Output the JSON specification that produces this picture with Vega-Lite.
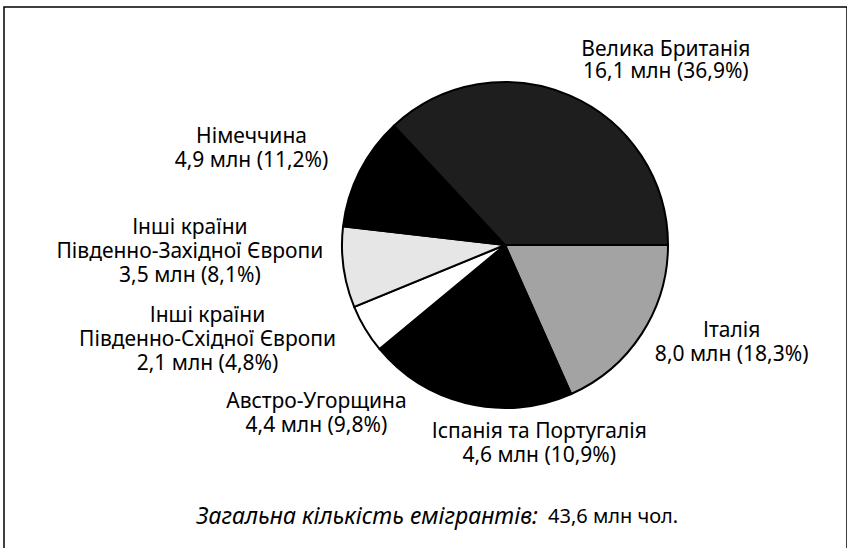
{
  "$schema": "https://vega.github.io/schema/vega-lite/v6.json",
  "width": 843,
  "height": 545,
  "autosize": {"type": "none"},
  "padding": {"left": 4, "top": 7, "right": 0, "bottom": 0},
  "background": "white",
  "view": {"stroke": "black", "strokeWidth": 1.5, "fill": "white"},
  "config": {
    "view": {"stroke": "black", "strokeWidth": 1.5},
    "text": {"font": "Noto Sans", "fontSize": 21, "color": "black"}
  },
  "data": {
    "values": [
      {"name": "Італія", "label": "Італія\n8,0 млн (18,3%)", "value": 8.0, "order": 1},
      {"name": "Іспанія та Португалія", "label": "Іспанія та Португалія\n4,6 млн (10,9%)", "value": 4.6, "order": 2},
      {"name": "Австро-Угорщина", "label": "Австро-Угорщина\n4,4 млн (9,8%)", "value": 4.4, "order": 3},
      {"name": "Інші країни Південно-Східної Європи", "label": "Інші країни\nПівденно-Східної Європи\n2,1 млн (4,8%)", "value": 2.1, "order": 4},
      {"name": "Інші країни Південно-Західної Європи", "label": "Інші країни\nПівденно-Західної Європи\n3,5 млн (8,1%)", "value": 3.5, "order": 5},
      {"name": "Німеччина", "label": "Німеччина\n4,9 млн (11,2%)", "value": 4.9, "order": 6},
      {"name": "Велика Британія", "label": "Велика Британія\n16,1 млн (36,9%)", "value": 16.1, "order": 7}
    ]
  },
  "layer": [
    {
      "encoding": {
        "theta": {"field": "value", "type": "quantitative", "stack": true, "scale": {"range": [1.5708, 7.854]}},
        "order": {"field": "order", "type": "quantitative"}
      },
      "layer": [
        {
          "mark": {"type": "arc", "outerRadius": 163, "stroke": "black", "strokeWidth": 2, "xOffset": 79.5, "yOffset": -34.5},
          "encoding": {
            "color": {
              "field": "name",
              "type": "nominal",
              "scale": {
                "domain": ["Італія", "Іспанія та Португалія", "Австро-Угорщина", "Інші країни Південно-Східної Європи", "Інші країни Південно-Західної Європи", "Німеччина", "Велика Британія"],
                "range": ["#a3a3a3", "#000000", "#000000", "#ffffff", "#e6e6e6", "#000000", "#1e1e1e"]
              },
              "legend": null
            }
          }
        },
        {
          "mark": {"type": "text", "radius": 200, "dx": 81, "dy": -12, "xOffset": 79.5, "yOffset": -34.5, "lineBreak": "\n", "lineHeight": 22, "baseline": "middle", "align": "center"},
          "encoding": {"text": {"condition": {"test": "datum.name === 'Велика Британія'", "field": "label"}, "value": ""}}
        },
        {
          "mark": {"type": "text", "radius": 200, "dx": 59, "dy": -23, "xOffset": 79.5, "yOffset": -34.5, "lineBreak": "\n", "lineHeight": 24, "baseline": "middle", "align": "center"},
          "encoding": {"text": {"condition": {"test": "datum.name === 'Італія'", "field": "label"}, "value": ""}}
        },
        {
          "mark": {"type": "text", "radius": 200, "dx": 17, "dy": -12, "xOffset": 79.5, "yOffset": -34.5, "lineBreak": "\n", "lineHeight": 24, "baseline": "middle", "align": "center"},
          "encoding": {"text": {"condition": {"test": "datum.name === 'Іспанія та Португалія'", "field": "label"}, "value": ""}}
        },
        {
          "mark": {"type": "text", "radius": 200, "dx": -82, "dy": -12, "xOffset": 79.5, "yOffset": -34.5, "lineBreak": "\n", "lineHeight": 24, "baseline": "middle", "align": "center"},
          "encoding": {"text": {"condition": {"test": "datum.name === 'Австро-Угорщина'", "field": "label"}, "value": ""}}
        },
        {
          "mark": {"type": "text", "radius": 200, "dx": -126, "dy": -32, "xOffset": 79.5, "yOffset": -34.5, "lineBreak": "\n", "lineHeight": 24, "baseline": "middle", "align": "center"},
          "encoding": {"text": {"condition": {"test": "datum.name === 'Інші країни Південно-Східної Європи'", "field": "label"}, "value": ""}}
        },
        {
          "mark": {"type": "text", "radius": 200, "dx": -117, "dy": -44, "xOffset": 79.5, "yOffset": -34.5, "lineBreak": "\n", "lineHeight": 24, "baseline": "middle", "align": "center"},
          "encoding": {"text": {"condition": {"test": "datum.name === 'Інші країни Південно-Західної Європи'", "field": "label"}, "value": ""}}
        },
        {
          "mark": {"type": "text", "radius": 200, "dx": -75, "dy": -18, "xOffset": 79.5, "yOffset": -34.5, "lineBreak": "\n", "lineHeight": 24, "baseline": "middle", "align": "center"},
          "encoding": {"text": {"condition": {"test": "datum.name === 'Німеччина'", "field": "label"}, "value": ""}}
        }
      ]
    },
    {
      "data": {"values": [{"part": "Загальна кількість емігрантів:"}]},
      "mark": {"type": "text", "x": 534, "y": 510, "align": "right", "baseline": "middle", "fontStyle": "italic", "fontSize": 23},
      "encoding": {"text": {"field": "part", "type": "nominal"}}
    },
    {
      "data": {"values": [{"part": "43,6 млн чол."}]},
      "mark": {"type": "text", "x": 544, "y": 510, "align": "left", "baseline": "middle", "fontSize": 20},
      "encoding": {"text": {"field": "part", "type": "nominal"}}
    }
  ]
}
